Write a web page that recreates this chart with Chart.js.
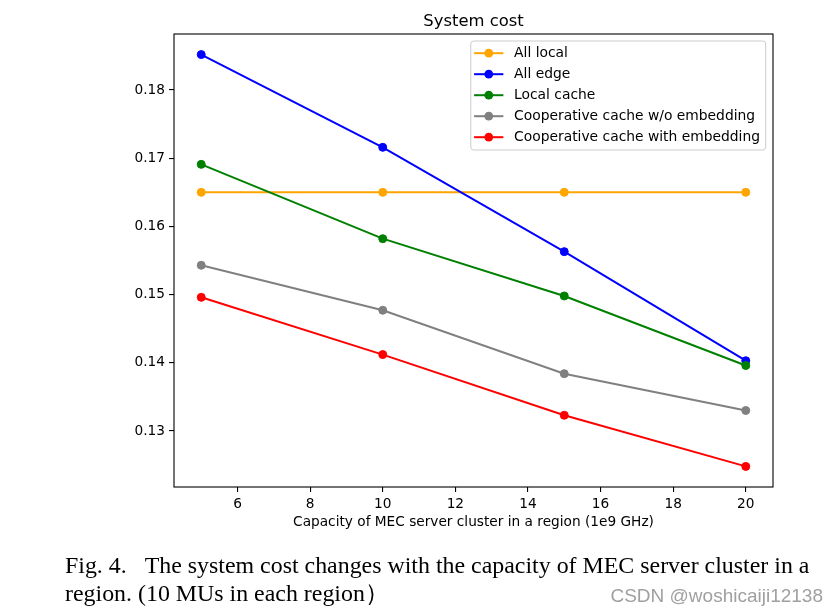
<!DOCTYPE html>
<html><head><meta charset="utf-8">
<script src="https://cdn.jsdelivr.net/npm/chart.js@4/dist/chart.umd.min.js"></script>
<style>html,body{margin:0;padding:0;background:#fff;} canvas{display:block;}</style>
</head><body>
<canvas id="c" width="840" height="616"></canvas>
<script>
const capacity = [5, 10, 15, 20];
const allLocal = [0.1650, 0.1650, 0.1650, 0.1650];
const allEdge = [0.1852, 0.1716, 0.1563, 0.1403];
const localCache = [0.1691, 0.1582, 0.1498, 0.1396];
const coopNoEmb = [0.1543, 0.1477, 0.1384, 0.1330];
const coopEmb = [0.1496, 0.1412, 0.1323, 0.1248];
const seriesLabels = ['All local', 'All edge', 'Local cache', 'Cooperative cache w/o embedding', 'Cooperative cache with embedding'];
const seriesColors = ['#ffa500', '#0000ff', '#008000', '#808080', '#ff0000'];
const xTicks = [6, 8, 10, 12, 14, 16, 18, 20];
const yTicks = [0.13, 0.14, 0.15, 0.16, 0.17, 0.18];
const titleText = 'System cost';
const xAxisTitle = 'Capacity of MEC server cluster in a region (1e9 GHz)';
const captionLines = ['Fig. 4.   The system cost changes with the capacity of MEC server cluster in a', 'region. (10 MUs in each region\uFF09'];
const watermark = 'CSDN @woshicaiji12138';

const allSeries = [allLocal, allEdge, localCache, coopNoEmb, coopEmb];

// matplotlib-like autoscale margins (5%)
const allVals = allSeries.flat();
const yLo = Math.min(...allVals), yHi = Math.max(...allVals);
const ySpan = yHi - yLo;
const xLo = Math.min(...capacity), xHi = Math.max(...capacity);
const xSpan = xHi - xLo;

const FONT = 'DejaVu Sans';
const tickFont = {family: FONT, size: 13.7, weight: 'normal', lineHeight: 1.2};

const datasets = allSeries.map((vals, i) => ({
  label: seriesLabels[i],
  data: capacity.map((x, j) => ({x: x, y: vals[j]})),
  borderColor: seriesColors[i],
  backgroundColor: seriesColors[i],
  pointBackgroundColor: seriesColors[i],
  pointBorderColor: seriesColors[i],
  pointBorderWidth: 1,
  pointRadius: 4,
  borderWidth: 2,
  tension: 0,
  fill: false,
  order: allSeries.length - 1 - i
}));

const framePlugin = {
  id: 'frame',
  afterDatasetsDraw(chart) {
    const {ctx, chartArea: a} = chart;
    ctx.save();
    ctx.strokeStyle = '#000';
    ctx.lineWidth = 1.1;
    ctx.strokeRect(a.left, a.top, a.right - a.left, a.bottom - a.top);
    ctx.restore();

    // title centered over the plot area
    ctx.save();
    ctx.font = '16.4px "' + FONT + '"';
    ctx.fillStyle = '#000';
    ctx.textAlign = 'center';
    ctx.textBaseline = 'alphabetic';
    ctx.fillText(titleText, (a.left + a.right) / 2, 25.7);
    ctx.restore();

    // legend (matplotlib style, upper right inside axes)
    ctx.save();
    ctx.font = '13.85px "' + FONT + '"';
    const dsets = chart.data.datasets;
    let maxW = 0;
    dsets.forEach(d => { maxW = Math.max(maxW, ctx.measureText(d.label).width); });
    const right = a.right - 7.3;
    const top = a.top + 7;
    const w = 43.3 + maxW + 5.7;
    const h = 109;
    const left = right - w;
    const r = 3;
    ctx.beginPath();
    ctx.moveTo(left + r, top);
    ctx.lineTo(right - r, top);
    ctx.arcTo(right, top, right, top + r, r);
    ctx.lineTo(right, top + h - r);
    ctx.arcTo(right, top + h, right - r, top + h, r);
    ctx.lineTo(left + r, top + h);
    ctx.arcTo(left, top + h, left, top + h - r, r);
    ctx.lineTo(left, top + r);
    ctx.arcTo(left, top, left + r, top, r);
    ctx.closePath();
    ctx.fillStyle = 'rgba(255,255,255,0.8)';
    ctx.fill();
    ctx.strokeStyle = '#cccccc';
    ctx.lineWidth = 1;
    ctx.stroke();
    dsets.forEach((d, i) => {
      const y = top + 12.2 + 21 * i;
      ctx.strokeStyle = d.borderColor;
      ctx.lineWidth = 2;
      ctx.beginPath();
      ctx.moveTo(left + 3.3, y);
      ctx.lineTo(left + 32.6, y);
      ctx.stroke();
      ctx.fillStyle = d.borderColor;
      ctx.beginPath();
      ctx.arc(left + 18, y, 4.4, 0, Math.PI * 2);
      ctx.fill();
      ctx.fillStyle = '#000';
      ctx.textBaseline = 'middle';
      ctx.textAlign = 'left';
      ctx.fillText(d.label, left + 43.3, y);
    });
    ctx.restore();
  },
  afterDraw(chart) {
    const ctx = chart.ctx;
    ctx.save();
    ctx.fillStyle = '#000';
    ctx.textBaseline = 'alphabetic';
    ctx.textAlign = 'left';
    ctx.font = '23.9px "Liberation Serif"';
    ctx.fillText(captionLines[0], 65, 572.7);
    ctx.fillText(captionLines[1], 65, 601);
    ctx.font = '19px "Liberation Sans"';
    ctx.fillStyle = '#a0a0a0';
    ctx.textAlign = 'right';
    ctx.fillText(watermark, 823, 602);
    ctx.restore();
  }
};

new Chart(document.getElementById('c'), {
  type: 'line',
  data: {datasets: datasets},
  plugins: [framePlugin],
  options: {
    responsive: false,
    animation: false,
    devicePixelRatio: 1,
    layout: {padding: {left: 0, right: 67, top: 34, bottom: 85}},
    plugins: {
      legend: {display: false},
      tooltip: {enabled: false},
      title: {display: false}
    },
    scales: {
      x: {
        type: 'linear',
        min: xLo - 0.05 * xSpan,
        max: xHi + 0.05 * xSpan,
        afterBuildTicks: s => { s.ticks = xTicks.map(v => ({value: v})); },
        afterFit: s => { s.height = 44; },
        grid: {display: true, drawOnChartArea: false, drawTicks: true, tickLength: 5, color: '#000', lineWidth: 1.1},
        border: {display: false},
        ticks: {color: '#000', font: tickFont, padding: 4, maxRotation: 0, autoSkip: false, callback: v => String(v)},
        title: {display: true, text: xAxisTitle, color: '#000', font: tickFont, padding: 0}
      },
      y: {
        type: 'linear',
        min: yLo - 0.05 * ySpan,
        max: yHi + 0.05 * ySpan,
        afterBuildTicks: s => { s.ticks = yTicks.map(v => ({value: v})); },
        afterFit: s => { s.width = 174; },
        grid: {display: true, drawOnChartArea: false, drawTicks: true, tickLength: 5, color: '#000', lineWidth: 1.1},
        border: {display: false},
        ticks: {color: '#000', font: tickFont, padding: 4, autoSkip: false, callback: v => v.toFixed(2)}
      }
    }
  }
});
</script>
</body></html>
